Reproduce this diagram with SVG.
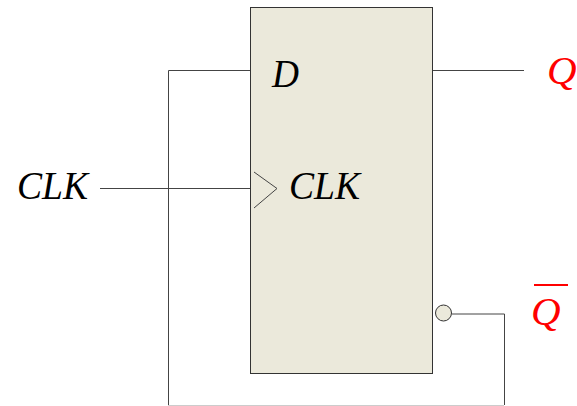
<svg xmlns="http://www.w3.org/2000/svg" width="577" height="406" viewBox="0 0 577 406">
<style>
.w{fill:none;stroke:#444;stroke-width:1}
.t{font-family:"Liberation Serif",serif;font-style:italic;font-size:39.500px;fill:#000}
.q{font-family:"Liberation Serif",serif;font-style:italic;font-size:41px;fill:#f00}
</style>
<rect width="577" height="406" fill="#fff"/>
<g id="connectors">
<path class="w" d="M250.500 70.500H168.500V405"/>
<path d="M168 405.500H504" fill="none" stroke="#ccc"/>
<path class="w" d="M504.500 405V314H452"/>
<path class="w" d="M100 188.500H250"/>
<path class="w" d="M432 70.500H524"/>
</g>
<g id="flipflop">
<rect x="250.500" y="7.500" width="182" height="366" fill="#ebe9db" stroke="#333"/>
<path class="w" d="M254 172L277 188.500L254 208"/>
<text class="t" x="272" y="86.500" textLength="27" lengthAdjust="spacingAndGlyphs">D</text>
<text class="t" x="289" y="199" textLength="71" lengthAdjust="spacingAndGlyphs">CLK</text>
</g>
<g id="clk-label"><text class="t" x="17" y="199" textLength="71" lengthAdjust="spacingAndGlyphs">CLK</text></g>
<g id="q-label"><text class="q" x="547" y="84">Q</text></g>
<g id="qbar-label">
<text class="q" x="531" y="325">Q</text>
<path d="M534 285H568" stroke="#f00" stroke-width="2" fill="none"/>
</g>
<g id="bubble"><circle cx="443.500" cy="313" r="8" fill="#ebe9db" stroke="#333"/></g>
</svg>
